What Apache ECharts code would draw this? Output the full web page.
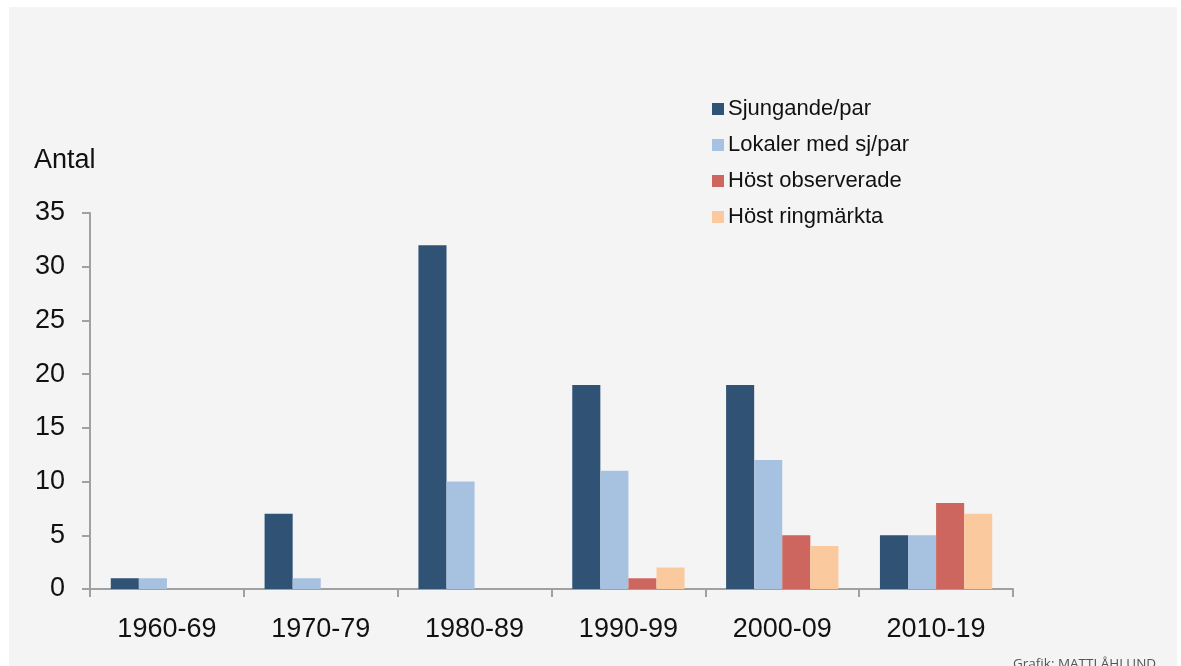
<!DOCTYPE html>
<html>
<head>
<meta charset="utf-8">
<script src="https://cdn.jsdelivr.net/npm/echarts@6/dist/echarts.min.js"></script>
<style>
html,body{margin:0;padding:0;background:#ffffff;}
#chart{width:1181px;height:666px;}
</style>
</head>
<body>
<div id="chart"></div>
<script>
const categories = ['1960-69', '1970-79', '1980-89', '1990-99', '2000-09', '2010-19'];
const sjungande = [1, 7, 32, 19, 19, 5];
const lokaler = [1, 1, 10, 11, 12, 5];
const hostObserverade = [0, 0, 0, 1, 5, 8];
const hostRingmarkta = [0, 0, 0, 2, 4, 7];
const seriesNames = ['Sjungande/par', 'Lokaler med sj/par', 'Höst observerade', 'Höst ringmärkta'];
const yTicks = [0, 5, 10, 15, 20, 25, 30, 35];

const colors = ['#2f5275', '#a7c1e0', '#cd665e', '#fbc99e'];
const font = '"Liberation Sans", Arial, sans-serif';

const chart = echarts.init(document.getElementById('chart'), null, {renderer: 'canvas'});
const allData = [sjungande, lokaler, hostObserverade, hostRingmarkta];

chart.setOption({
  animation: false,
  backgroundColor: '#ffffff',
  color: colors,
  graphic: [
    {type: 'rect', z: -10, shape: {x: 9, y: 7, width: 1168, height: 670}, style: {fill: '#f4f4f4'}},
    {type: 'text', x: 34, y: 161, style: {text: 'Antal', font: '27px ' + font, fill: '#111111', verticalAlign: 'middle'}},
    {type: 'text', x: 1013, y: 657, style: {text: 'Grafik: MATTI ÅHLUND', font: '13.5px "Open Sans", sans-serif', fill: '#555555', verticalAlign: 'top'}}
  ],
  legend: {
    orient: 'vertical',
    left: 707,
    top: 93,
    itemWidth: 12,
    itemHeight: 12,
    itemGap: 14,
    icon: 'rect',
    textStyle: {fontFamily: font, fontSize: 22, color: '#111111', padding: [0, 0, 0, -1]},
    data: seriesNames
  },
  grid: {left: 90, right: 168, top: 213, bottom: 77, containLabel: false},
  xAxis: {
    type: 'category',
    data: categories,
    axisLine: {lineStyle: {color: '#a0a0a0', width: 2}},
    axisTick: {show: true, length: 8, lineStyle: {color: '#a0a0a0', width: 2}},
    axisLabel: {fontFamily: font, fontSize: 27, color: '#111111', margin: 27}
  },
  yAxis: {
    type: 'value',
    min: 0,
    max: 35,
    interval: 5,
    splitLine: {show: false},
    axisLine: {show: true, lineStyle: {color: '#a0a0a0', width: 2}},
    axisTick: {show: true, length: 8, lineStyle: {color: '#a0a0a0', width: 2}},
    axisLabel: {fontFamily: font, fontSize: 27, color: '#111111', margin: 25,
      formatter: v => yTicks.includes(v) ? String(v) : ''}
  },
  series: seriesNames.map((n, i) => ({
    name: n,
    type: 'bar',
    data: allData[i],
    barGap: '0%',
    barCategoryGap: '27%',
    itemStyle: {color: colors[i]}
  }))
});
</script>
</body>
</html>
